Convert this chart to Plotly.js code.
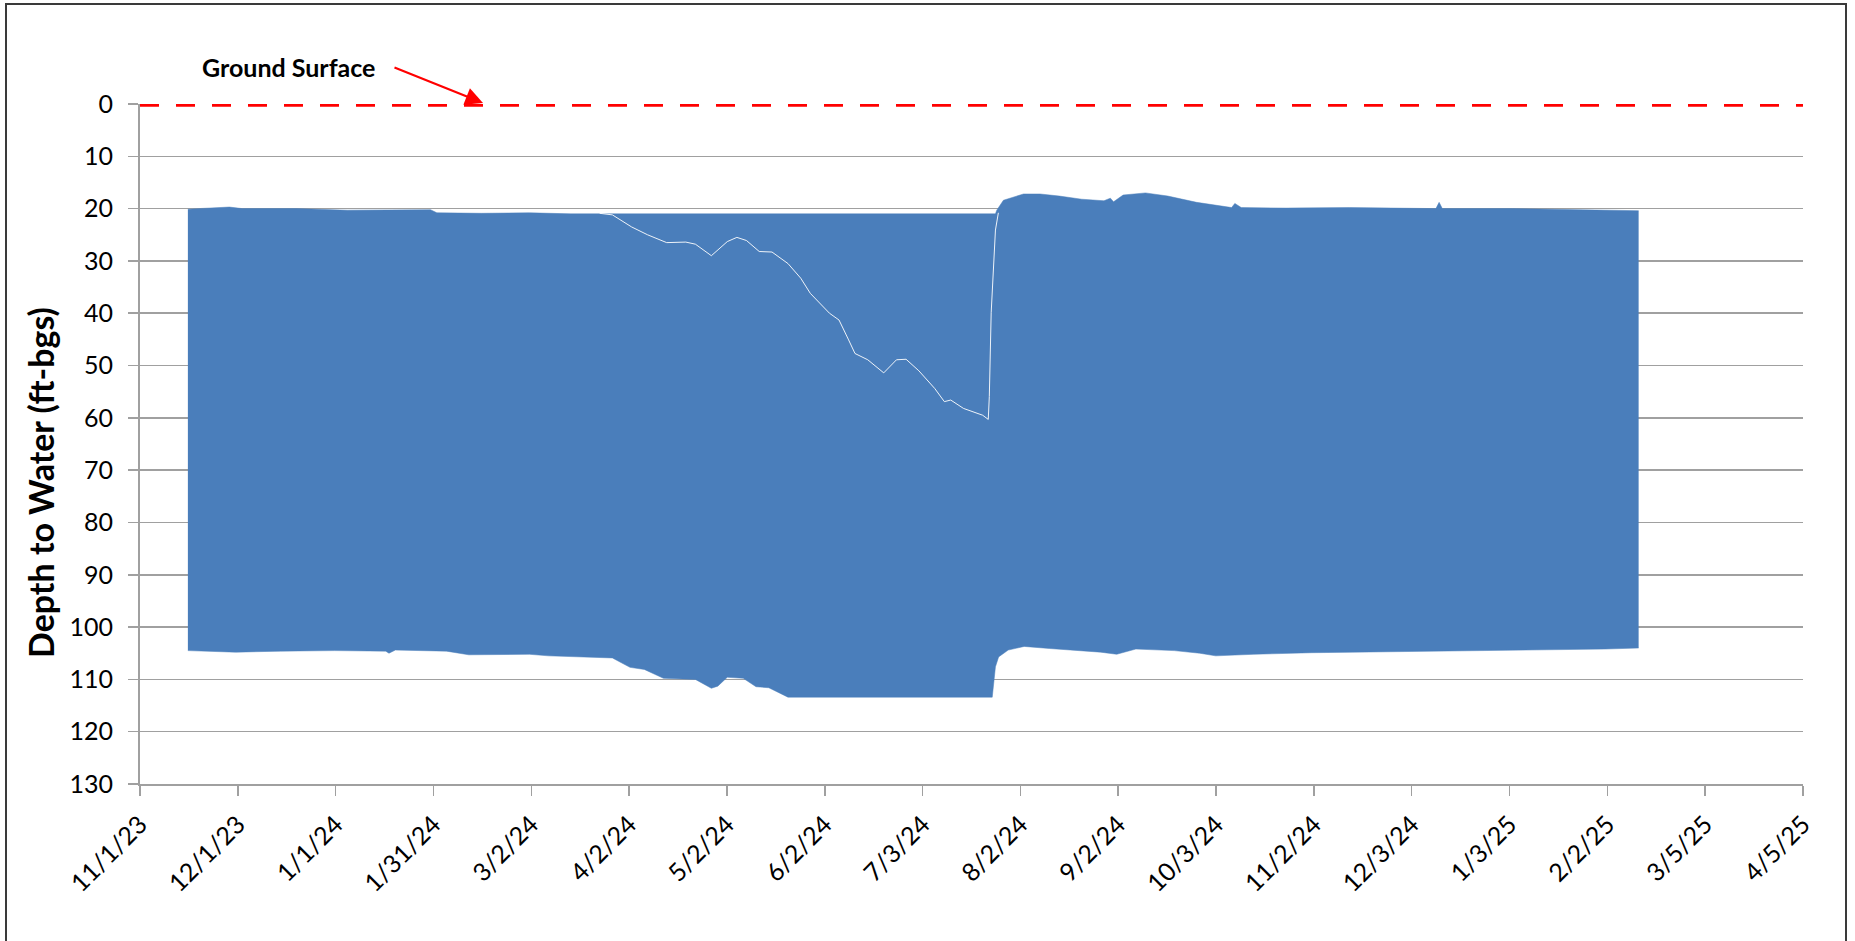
<!DOCTYPE html>
<html>
<head>
<meta charset="utf-8">
<script src="https://cdn.plot.ly/plotly-3.0.1.min.js"></script>
<style>
  html, body { margin: 0; padding: 0; background: #ffffff; }
  #chart { width: 1855px; height: 941px; }
  #frame { position: absolute; left: 5px; top: 3px; width: 1842px; height: 980px;
           border: 2px solid #3a3a3a; pointer-events: none; box-sizing: border-box; }
</style>
</head>
<body>
<div id="chart"></div>
<div id="frame"></div>
<script>
// ---- Data ----
// Upper envelope of the water-level record (shallowest readings, ft-bgs)
const upperDates = [
  '2023-11-16', '2023-11-25', '2023-11-29', '2023-12-03', '2023-12-20',
  '2024-01-05', '2024-01-20', '2024-01-31', '2024-02-02', '2024-02-16',
  '2024-03-02', '2024-03-15', '2024-03-27', '2024-07-26',
  '2024-07-26 10:00', '2024-07-28 12:00', '2024-08-03 19:00', '2024-08-09',
  '2024-08-15', '2024-08-22', '2024-08-29', '2024-08-31', '2024-09-01',
  '2024-09-04', '2024-09-11', '2024-09-18', '2024-09-27', '2024-10-03',
  '2024-10-08', '2024-10-09', '2024-10-11', '2024-10-25', '2024-11-14',
  '2024-12-11', '2024-12-12', '2024-12-13', '2025-01-04', '2025-02-12 12:00'
];
const upperDepth = [
  20.1, 19.9, 19.7, 20.0, 20.0,
  20.3, 20.2, 20.2, 20.8, 20.9,
  20.8, 21.0, 21.0, 21.0,
  20.3, 18.4, 17.2, 17.2,
  17.6, 18.2, 18.5, 18.0, 18.7,
  17.4, 17.0, 17.6, 18.8, 19.4,
  19.8, 19.0, 19.8, 19.9, 19.8,
  20.0, 18.8, 20.0, 20.0, 20.4
];

// Lower envelope of the water-level record (deepest readings, ft-bgs)
const lowerDates = [
  '2023-11-16', '2023-12-01', '2023-12-15', '2024-01-01', '2024-01-17',
  '2024-01-18', '2024-01-20', '2024-02-05', '2024-02-12', '2024-03-02',
  '2024-03-08', '2024-03-28', '2024-04-02 12:00', '2024-04-07', '2024-04-13',
  '2024-04-23', '2024-04-28', '2024-04-30', '2024-05-03', '2024-05-08',
  '2024-05-12', '2024-05-16', '2024-05-22', '2024-07-25', '2024-07-26',
  '2024-07-27', '2024-07-30', '2024-08-04', '2024-08-12', '2024-08-28',
  '2024-09-02', '2024-09-08', '2024-09-20', '2024-09-28', '2024-10-03',
  '2024-10-15', '2024-11-02', '2024-12-03', '2025-01-03', '2025-02-02',
  '2025-02-12 12:00'
];
const lowerDepth = [
  104.5, 104.8, 104.6, 104.5, 104.6,
  105.0, 104.4, 104.6, 105.3, 105.2,
  105.5, 105.9, 107.7, 108.1, 109.8,
  110.0, 111.7, 111.3, 109.6, 109.8,
  111.4, 111.6, 113.4, 113.4, 107.6,
  105.7, 104.4, 103.7, 104.1, 104.8,
  105.2, 104.2, 104.5, 105.0, 105.5,
  105.2, 104.9, 104.7, 104.5, 104.2,
  104.0
];

// Thin gap line visible inside the band during the spring/summer drawdown
const gapDates = [
  '2024-03-24', '2024-03-28', '2024-04-03', '2024-04-08', '2024-04-14',
  '2024-04-20', '2024-04-23', '2024-04-28', '2024-05-03', '2024-05-06',
  '2024-05-09', '2024-05-13', '2024-05-17', '2024-05-22', '2024-05-26',
  '2024-05-29', '2024-06-04', '2024-06-07', '2024-06-10', '2024-06-12',
  '2024-06-16', '2024-06-21', '2024-06-25', '2024-06-28', '2024-07-02',
  '2024-07-07', '2024-07-10', '2024-07-12', '2024-07-16', '2024-07-22',
  '2024-07-23 18:00', '2024-07-24 02:00', '2024-07-24 16:00', '2024-07-26', '2024-07-26 22:00'
];
const gapDepth = [
  20.9, 21.2, 23.5, 25.0, 26.5,
  26.4, 26.8, 29.0, 26.3, 25.5,
  26.1, 28.2, 28.3, 30.5, 33.3,
  36.2, 40.0, 41.3, 45.1, 47.7,
  48.9, 51.4, 48.9, 48.8, 51.0,
  54.4, 56.9, 56.6, 58.2, 59.5,
  60.3, 55.9, 39.9, 24.1, 20.8
];

// Ground surface reference line
const groundDates = ['2023-11-01', '2025-04-05'];
const groundDepth = [0, 0];

// Axis ticks
const xTickLabels = ['11/1/23', '12/1/23', '1/1/24', '1/31/24', '3/2/24', '4/2/24', '5/2/24',
  '6/2/24', '7/3/24', '8/2/24', '9/2/24', '10/3/24', '11/2/24', '12/3/24', '1/3/25',
  '2/2/25', '3/5/25', '4/5/25'];
const xRange = ['2023-11-01', '2025-04-05'];
const yRange = [130, 0];

// ---- Build chart ----
const t0 = Date.parse(xRange[0] + 'T00:00:00Z');
const t1 = Date.parse(xRange[1] + 'T00:00:00Z');
const step = (t1 - t0) / (xTickLabels.length - 1);
const xTickVals = xTickLabels.map((_, i) => new Date(t0 + i * step).toISOString().replace('T', ' ').replace('Z', ''));

const blue = '#4a7ebb';
const grey = '#a0a0a0';
const font = 'Lato, "Open Sans", "Liberation Sans", sans-serif';
const tickFont = { family: font, size: 25, color: '#000' };

const traces = [
  {
    x: lowerDates, y: lowerDepth, type: 'scatter', mode: 'lines',
    line: { color: blue, width: 0.5 }, hoverinfo: 'skip', showlegend: false
  },
  {
    x: upperDates, y: upperDepth, type: 'scatter', mode: 'lines',
    line: { color: blue, width: 0.5 }, fill: 'tonexty', fillcolor: blue,
    hoverinfo: 'skip', showlegend: false
  },
  {
    x: gapDates, y: gapDepth, type: 'scatter', mode: 'lines',
    line: { color: 'rgba(255,255,255,0.9)', width: 1 }, hoverinfo: 'skip', showlegend: false
  },
  {
    x: groundDates, y: groundDepth, xaxis: 'x2', yaxis: 'y2', type: 'scatter', mode: 'lines',
    line: { color: '#ff0000', width: 5.5, dash: '19px,17px' }, hoverinfo: 'skip',
    showlegend: false, cliponaxis: false
  }
];

const layout = {
  width: 1855, height: 941,
  margin: { l: 113, r: 52, t: 104, b: 137, pad: 0 },
  paper_bgcolor: '#ffffff', plot_bgcolor: '#ffffff',
  font: { family: font, size: 25, color: '#000000' },
  showlegend: false,
  // axis with ticks and line (labels carried by xaxis2 a little lower)
  xaxis: {
    type: 'date', range: xRange, domain: [0.015976, 1], tickmode: 'array', tickvals: xTickVals,
    showticklabels: false, ticks: 'outside', ticklen: 10, tickwidth: 1.5, tickcolor: grey,
    showline: true, linecolor: grey, linewidth: 1.5, showgrid: false, zeroline: false,
    automargin: false, fixedrange: true
  },
  xaxis2: {
    type: 'date', range: xRange, overlaying: 'x', anchor: 'free', position: 0,
    tickmode: 'array', tickvals: xTickVals, ticktext: xTickLabels, tickangle: -45,
    ticks: '', showline: false, showgrid: false, zeroline: false,
    tickfont: tickFont, automargin: false, fixedrange: true
  },
  yaxis: {
    range: yRange, domain: [0.028571, 1], tick0: 0, dtick: 10, ticks: 'outside', ticklen: 10,
    tickwidth: 1.5, tickcolor: grey, showline: true, linecolor: grey, linewidth: 1.5,
    showgrid: true, gridcolor: grey, gridwidth: 1.5, zeroline: false, showticklabels: false,
    automargin: false, fixedrange: true
  },
  yaxis2: {
    range: yRange, overlaying: 'y', anchor: 'free', position: 0, side: 'left',
    tick0: 0, dtick: 10, ticks: '', showline: false, showgrid: false, zeroline: false,
    tickfont: tickFont, automargin: false, fixedrange: true
  },
  annotations: [
    {
      xref: 'paper', yref: 'paper', x: -0.0432, y: 0.46, xanchor: 'center', yanchor: 'middle',
      textangle: -90, text: '<b>Depth to Water (ft-bgs)</b>', showarrow: false,
      font: { family: font, size: 34, color: '#000' }
    },
    {
      xref: 'paper', yref: 'paper', x: 0.10414, y: 1.05286, xanchor: 'center', yanchor: 'middle',
      text: '<b>Ground Surface</b>', showarrow: false, font: { family: font, size: 25, color: '#000' }
    },
    {
      xref: 'paper', yref: 'paper', x: 0.21893, y: 1.00143, text: '', showarrow: true,
      ax: -90, ay: -36, arrowcolor: '#ff0000', arrowwidth: 2.2, arrowhead: 2, arrowsize: 1.6
    }
  ]
};

Plotly.newPlot('chart', traces, layout, { staticPlot: true, displayModeBar: false });
</script>
</body>
</html>
